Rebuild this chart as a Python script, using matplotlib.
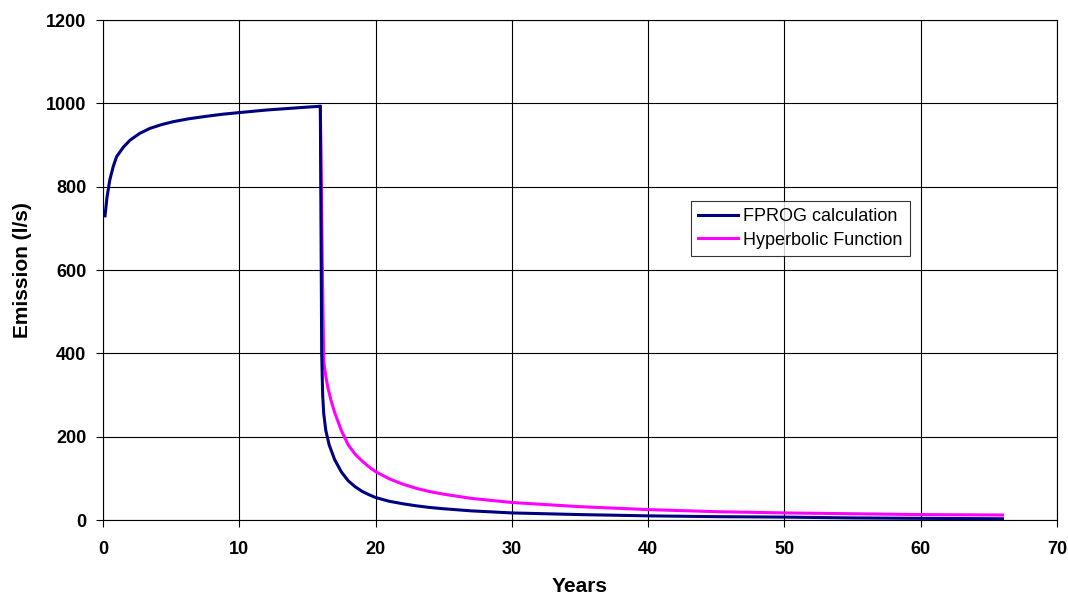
import matplotlib.pyplot as plt

plt.rcParams['font.family'] = ['Liberation Sans', 'DejaVu Sans']

# FPROG calculation (years, l/s)
fprog_x = [0.15, 0.3, 0.5, 0.75, 1.0, 1.5, 2.0, 2.7, 3.45, 4.3, 5.15, 6.3, 7.6, 8.8, 10.05, 12.0, 13.7, 15.0, 15.95,
           16.05, 16.12, 16.2, 16.35, 16.6, 17.0, 17.5, 18.0, 18.5, 19.0, 19.5, 20.0, 21.0, 22.0, 23.0, 24.0, 25.0,
           27.0, 30.0, 35.0, 40.0, 45.0, 50.0, 55.0, 60.0, 66.0]
fprog_y = [730, 775, 816, 848, 872, 895, 912, 928, 940, 949, 956, 963, 969, 974, 978, 984, 988, 991, 993,
           400, 300, 255, 215, 180, 145, 115, 94, 80, 69, 61, 54, 45, 39, 34, 30, 27,
           22, 17, 13, 10, 8, 7, 5, 4, 3]

# Hyperbolic function (years, l/s)
hyper_x = [15.95, 16.1, 16.2, 16.35, 16.5, 16.75, 17.0, 17.5, 18.0, 18.5, 19.0, 19.5, 20.0, 21.0, 22.0, 23.0,
           24.0, 25.0, 27.0, 30.0, 35.0, 40.0, 45.0, 50.0, 55.0, 60.0, 66.0]
hyper_y = [993, 600, 380, 345, 318, 285, 258, 214, 180, 158, 142, 128, 116, 99, 86, 76,
           68, 62, 52, 42, 32, 25, 20, 17, 15, 13, 12]

fig = plt.figure(figsize=(10.68, 5.96), dpi=100)
ax = fig.add_axes([0.0964, 0.1275, 0.8933, 0.8389])

ax.plot(fprog_x, fprog_y, color='#000080', lw=2.2, label='FPROG calculation', zorder=4)
ax.plot(hyper_x, hyper_y, color='#FF00FF', lw=2.2, label='Hyperbolic Function', zorder=3)

ax.set_xlim(0, 70)
ax.set_ylim(0, 1200)
ax.set_xticks(range(0, 71, 10))
ax.set_yticks(range(0, 1201, 200))
ax.grid(True, color='black', lw=0.8)
ax.set_axisbelow(True)
for s in ax.spines.values():
    s.set_color('black')
    s.set_linewidth(0.8)
ax.tick_params(direction='out', length=5, width=0.8, labelsize=13)
ax.tick_params(axis='x', pad=10)
ax.tick_params(axis='y', pad=7)
for lab in ax.get_xticklabels() + ax.get_yticklabels():
    lab.set_fontweight('bold')

ax.set_xlabel('Years', fontsize=15, fontweight='bold', labelpad=14)
ax.set_ylabel('Emission (l/s)', fontsize=15, fontweight='bold', labelpad=10)

leg = ax.legend(loc='upper left', bbox_to_anchor=(0.607, 0.656), fontsize=13, frameon=True,
                fancybox=False, edgecolor='black', handlelength=2.2, borderpad=0.4,
                labelspacing=0.35, handletextpad=0.3)
leg.get_frame().set_linewidth(0.8)

fig.savefig('out.png', dpi=100)
